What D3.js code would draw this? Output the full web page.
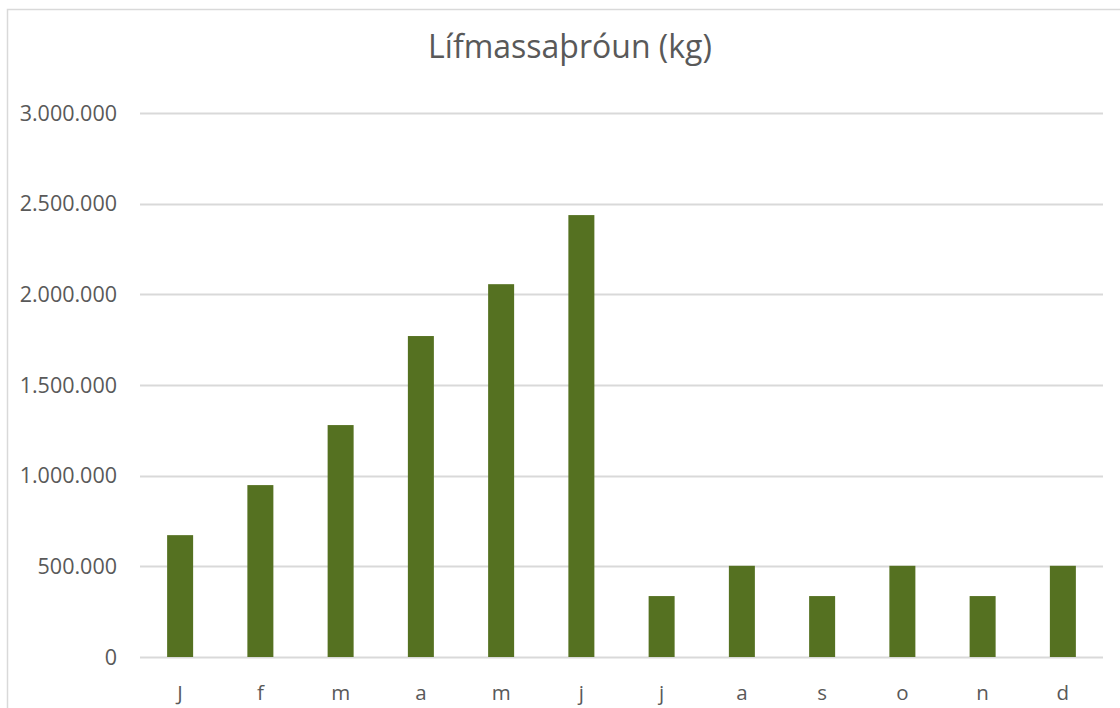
<!DOCTYPE html>
<html>
<head>
<meta charset="utf-8">
<script src="https://cdn.jsdelivr.net/npm/d3@7"></script>
<style>
  html, body { margin: 0; padding: 0; background: #fff; }
  svg { display: block; }
</style>
</head>
<body>
<div id="chart"></div>
<script>
// data
const months = ["J", "f", "m", "a", "m", "j", "j", "a", "s", "o", "n", "d"];
const biomass = [672000, 948000, 1279000, 1770000, 2056000, 2437000, 336000, 503000, 336000, 503000, 336000, 503000];
const yTicks = [0, 500000, 1000000, 1500000, 2000000, 2500000, 3000000];
const title = "Lífmassaþróun (kg)";

const width = 1120;
const height = 708;
const margin = { top: 113, right: 17, bottom: 51, left: 140 };
const barColor = "#557121";
const gridColor = "#d9d9d9";
const textColor = "#595959";
const font = "'Open Sans', 'Noto Sans', sans-serif";

const svg = d3.select("#chart").append("svg")
    .attr("width", width)
    .attr("height", height);

// chart border (right and bottom edges fall outside the picture)
svg.append("rect")
    .attr("x", 7.5).attr("y", 9.5)
    .attr("width", width + 20).attr("height", height + 20)
    .attr("fill", "none")
    .attr("stroke", gridColor)
    .attr("stroke-width", 1.5);

const x = d3.scaleBand()
    .domain(d3.range(months.length))
    .range([margin.left, width - margin.right])
    .paddingInner(0.676)
    .paddingOuter(0.338);

const y = d3.scaleLinear()
    .domain([0, 3000000])
    .range([height - margin.bottom, margin.top]);

const fmt = v => d3.format(",")(v).replace(/,/g, ".");

// gridlines
svg.append("g")
  .selectAll("line")
  .data(yTicks)
  .join("line")
    .attr("x1", margin.left)
    .attr("x2", width - margin.right)
    .attr("y1", d => Math.round(y(d)) + 0.5)
    .attr("y2", d => Math.round(y(d)) + 0.5)
    .attr("stroke", gridColor)
    .attr("stroke-width", 2);

// y tick labels
svg.append("g")
    .attr("font-family", font)
    .attr("font-size", 21.5)
    .attr("fill", textColor)
    .attr("text-anchor", "end")
  .selectAll("text")
  .data(yTicks)
  .join("text")
    .attr("x", 117)
    .attr("y", d => y(d))
    .attr("dy", "0.36em")
    .text(fmt);

// bars
svg.append("g")
  .selectAll("rect")
  .data(biomass)
  .join("rect")
    .attr("x", (d, i) => x(i))
    .attr("width", x.bandwidth())
    .attr("y", d => y(d))
    .attr("height", d => y(0) - y(d))
    .attr("fill", barColor);

// x labels
svg.append("g")
    .attr("font-family", font)
    .attr("font-size", 20.5)
    .attr("fill", textColor)
    .attr("text-anchor", "middle")
  .selectAll("text")
  .data(months)
  .join("text")
    .attr("x", (d, i) => x(i) + x.bandwidth() / 2)
    .attr("y", 700)
    .text(d => d);

// title
svg.append("text")
    .attr("x", 570)
    .attr("y", 58)
    .attr("text-anchor", "middle")
    .attr("font-family", font)
    .attr("font-size", 32)
    .attr("fill", textColor)
    .text(title);
</script>
</body>
</html>
